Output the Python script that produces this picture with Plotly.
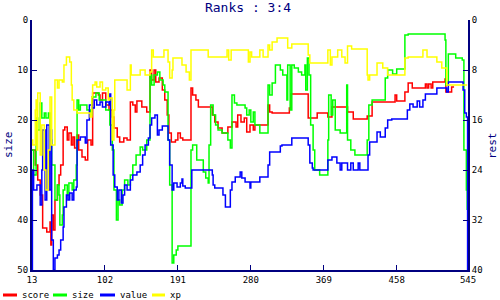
import plotly.graph_objects as go

# ---- data ----
score_x = [13,17,20,23,26,31,35,36,37,39,41,44,46,48,51,53,56,58,61,63,65,68,70,74,78,81,85,87,94,96,99,103,107,111,113,117,120,125,129,133,136,139,141,147,153,157,159,162,164,168,172,175,178,180,183,188,191,194,197,207,209,213,216,233,236,240,245,252,257,262,264,268,272,275,279,283,285,301,303,306,327,329,350,361,374,379,398,405,422,428,456,458,468,472,477,493,495,497,500,502,517,518,523,525,528]
score_y = [26,29,32,35,41.6,42.4,40.4,45,39,42,36,33,31,29,22,21.4,24,22.6,25,23.4,25.6,23,26,27.4,28,24,25,14.6,15,16,14.6,17,18,19.4,21.6,23.4,24.4,23.6,24,16.4,17,18.4,16.2,17.4,18.4,10,12,10,12.4,11.6,14,16,19,22.6,24.4,24,22.6,23.6,24,13.6,15,16,17.4,19,20.4,21.6,22.6,21.4,20.4,21.4,19,20.4,19.6,22.4,21,22,21,17,18.4,18.6,17.6,14.8,19.6,18.6,19.4,17.4,18.4,19.8,19.2,16.4,15,16.2,14.4,12.6,13.6,12.8,13.6,12.8,13.6,12.4,11.8,14.4,14.4,13.4,13.4]

size_x = [13,15,18,20,23,25,28,30,33,35,37,41,44,46,47,50,51,53,56,58,62,64,67,68,70,72,80,84,86,91,95,99,103,108,111,113,116,118,120,123,126,130,133,136,140,145,148,153,157,159,162,166,169,173,175,179,181,184,186,189,191,207,209,214,222,225,228,229,231,234,237,240,245,252,255,257,260,263,273,275,278,280,283,285,291,301,303,306,310,316,319,324,325,328,330,333,338,342,346,347,349,351,353,356,358,364,374,375,378,380,383,389,397,398,402,407,422,424,428,444,447,453,458,468,472,517,518,521,530,538,540,543,544]
size_y = [26,31,19.6,22,16.6,19.6,18.6,19.6,18.6,24,29,36,33,35,41,39,34,33,35,32.6,34,32,29,16,18,17,18,19,15.4,14.6,16,16,18,21,26,34,40,36,37,34,32,33,31,29,27,25.4,26,24,11,13,11,10.4,12,13,14.4,24,33,48.6,47,46,45.2,26,25,28,30.4,31.6,32.6,25,17,19,21,22,22.6,24,25.6,15,16.6,17,17.6,19,18,20.4,18.4,21,22.6,13,15,12.6,9,10,11,16,9,18,9,9.6,10.4,11,9,14,7.6,11,21,26,30,31,24,15,19,16,22,22.6,13,24,26,27,24,17,16,11.6,10,10.8,9.8,3,2.8,4,13,6.8,7.6,8,26,34,38]

value_x = [13,13.5,15,19,23,25,26,29,31,34,36,37,39,41,44,46,48,51,52,55,57,59,62,64,67,68,72,78,80,83,86,89,92,96,99,103,107,108,109,112,114,117,119,122,124,126,129,133,136,141,145,148,151,155,157,159,163,166,168,172,179,181,184,186,190,194,196,197,200,208,233,234,236,246,249,255,257,261,267,269,273,279,280,291,301,303,316,318,330,350,352,355,356,374,379,385,389,391,398,402,405,411,413,423,425,434,438,444,447,452,471,474,478,483,486,490,493,507,519,521,539,541,543,544.5]
value_y = [50,30,34,33,37,30,22,36,21,34,22,44,50,47.6,47,46,44,41.4,37.4,35,36,34.6,36,34,33.4,24,23.4,24.6,20,17,17.6,16,17,16.4,17.4,16.4,17,14.8,25,31,33.4,36,34,36.6,35,33,34,32,31,30.4,29,27,25,23.6,21,19.6,19,23,22,21.2,24,29,34,32.6,33.4,32.6,31.8,33.2,33.6,30,31,33,33.6,35,37.4,34,32.4,31.4,30.4,31.6,32.4,33.6,32.4,31.4,29,26.4,25.2,25,23.6,25,28.6,29.6,30,28,27.4,28.6,30,28.6,30,28.6,30,28.6,30,27,24.4,22.4,23.4,21.6,20,19.8,18,16.8,17.4,16.2,17.4,16,14.8,13.6,14.4,12.4,14,18.6,19.4,50]

xp_x = [13,14,17,18,19,20,23,25,28,30,33,35,37,41,44,46,50,52,55,59,61,62,64,68,84,86,87,90,92,96,99,103,106,108,111,113,114,129,133,134,145,151,157,159,161,174,179,181,184,185,196,201,205,207,228,251,253,256,277,279,281,291,295,301,303,306,312,325,330,350,352,374,377,379,386,391,395,398,403,422,423,425,434,441,447,468,472,490,495,507,513,519,544]
xp_y = [24,25,18,16,26,14.6,27,21,30,34,26,15.4,25,12,13.6,12,12.4,9,7.4,8.4,13,16,18,18.6,19.4,15.4,13,12.4,13.4,12.4,14,13.6,16,15.6,24,18,12,14,9,11,10,11,10.4,6,7.4,6,8.4,11.6,10,7.6,9,10.4,12,6,7.4,6,8,6,8.4,6.4,7.4,6,7.4,5,6,4.4,3.6,5.6,4.8,7,8.6,6,9,7.4,6,7.4,8.6,5.2,5.8,11,12,11,8.6,9.6,11,7.6,7.4,6,7.4,8.4,9.6,13,13]

series = [
    ("score", score_x, score_y, "#ff0000"),
    ("size", size_x, size_y, "#00ff00"),
    ("value", value_x, value_y, "#0000ff"),
    ("xp", xp_x, xp_y, "#ffff00"),
]
x_ticks = [13, 102, 191, 280, 369, 458, 545]
left_ticks = [0, 10, 20, 30, 40, 50]
right_ticks = [0, 8, 16, 24, 32, 40]

NAVY = "#000080"
FONT = "DejaVu Sans Mono"
W, H = 500, 300
ML, MR, MT, MB = 32, 32, 20, 30
PW, PH = W - ML - MR, H - MT - MB


def px(xp):  # pixel x -> paper x
    return (xp - ML) / PW


def py(yp):  # pixel y -> paper y
    return (H - MB - yp) / PH


fig = go.Figure()
for name, xs, ys, col in series:
    fig.add_trace(go.Scatter(x=xs, y=ys, name=name, mode="lines",
                             line=dict(color=col, width=1.5, shape="hv"),
                             showlegend=False))
# invisible trace to activate the right axis
fig.add_trace(go.Scatter(x=[x_ticks[0]], y=[0], yaxis="y2", mode="markers",
                         marker=dict(opacity=0), showlegend=False, hoverinfo="skip"))

# hand-made legend along the bottom
legend_pos = [(3, 17, 20), (53, 67, 70), (100, 115, 118), (152, 165, 168)]
shapes, annotations = [], []
for (name, _, _, col), (a, b, t) in zip(series, legend_pos):
    shapes.append(dict(type="line", xref="paper", yref="paper",
                       x0=px(a), x1=px(b), y0=py(295), y1=py(295),
                       line=dict(color=col, width=3)))
    annotations.append(dict(text=name, xref="paper", yref="paper", x=px(t), y=py(295),
                            xanchor="left", yanchor="middle", showarrow=False,
                            font=dict(family=FONT, size=9, color="black")))
# axis titles
annotations.append(dict(text="size", xref="paper", yref="paper", x=px(8), y=py(145),
                        textangle=-90, showarrow=False, xanchor="center", yanchor="middle",
                        font=dict(family=FONT, size=11, color=NAVY)))
annotations.append(dict(text="rest", xref="paper", yref="paper", x=px(492), y=py(145),
                        textangle=-90, showarrow=False, xanchor="center", yanchor="middle",
                        font=dict(family=FONT, size=11, color=NAVY)))

fig.update_layout(
    width=W, height=H,
    margin=dict(l=ML, r=MR, t=MT, b=MB, autoexpand=False),
    paper_bgcolor="white", plot_bgcolor="white",
    font=dict(family=FONT, size=9, color="black"),
    title=dict(text="Ranks : 3:4", x=0.496, xanchor="center", y=0.975, yanchor="middle",
               font=dict(family=FONT, size=13, color=NAVY)),
    xaxis=dict(range=[13, 545], tickvals=x_ticks, ticks="inside", ticklen=5,
               tickcolor=NAVY, showline=True, linecolor=NAVY, linewidth=2,
               showgrid=False, zeroline=False, automargin=False),
    yaxis=dict(range=[50, 0], tickvals=left_ticks, ticks="inside", ticklen=5,
               tickcolor=NAVY, showline=True, linecolor=NAVY, linewidth=2,
               showgrid=False, zeroline=False, automargin=False),
    yaxis2=dict(range=[40, 0], tickvals=right_ticks, ticks="inside", ticklen=5,
                tickcolor=NAVY, showline=True, linecolor=NAVY, linewidth=2,
                showgrid=False, zeroline=False, overlaying="y", side="right",
                automargin=False),
    shapes=shapes,
    annotations=annotations,
    showlegend=False,
)

fig.write_html("out.html")
